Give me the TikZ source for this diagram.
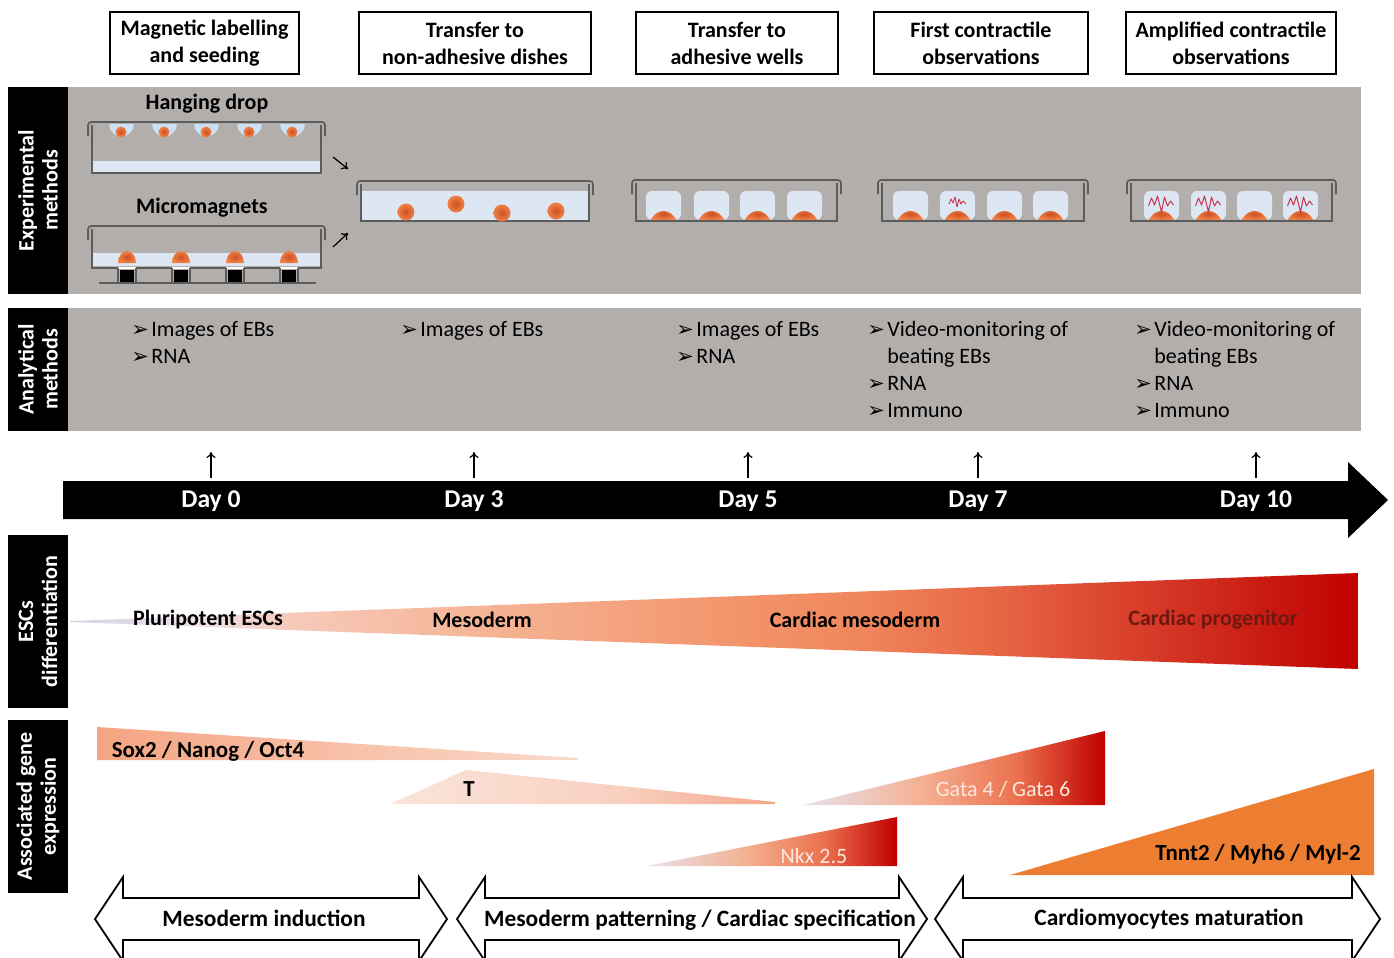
\documentclass[tikz,border=0pt]{standalone}
\usepackage{fontspec}
\setmainfont{Carlito}
\newfontfamily\symfont{DejaVu Sans}
\usetikzlibrary{arrows.meta}

% palette
\definecolor{panelgray}{RGB}{178,174,172}
\definecolor{dishgray}{RGB}{92,92,92}
\definecolor{liquid}{RGB}{220,231,243}
\definecolor{dropblue}{RGB}{203,224,243}
\definecolor{cellorange}{RGB}{240,130,70}
\definecolor{celldark}{RGB}{205,80,35}
\definecolor{beatred}{RGB}{200,55,80}
\definecolor{tnntorange}{RGB}{237,125,49}
\definecolor{progtext}{RGB}{110,25,15}
\definecolor{genelight}{RGB}{252,232,222}

% differentiation wedge
\definecolor{da}{RGB}{215,210,228}
\definecolor{db}{RGB}{236,226,232}
\definecolor{dc}{RGB}{246,202,186}
\definecolor{dd}{RGB}{245,182,152}
\definecolor{de}{RGB}{243,152,112}
\definecolor{df}{RGB}{240,135,92}
\definecolor{dg}{RGB}{230,102,68}
\definecolor{dh}{RGB}{214,58,40}
\definecolor{di}{RGB}{192,0,0}
\pgfdeclarehorizontalshading{diffshade}{100bp}{color(0bp)=(da); color(25bp)=(da);
  color(30bp)=(db); color(33.5bp)=(dc); color(40.5bp)=(dd); color(49.5bp)=(de);
  color(55.5bp)=(df); color(61bp)=(dg); color(67bp)=(dh); color(75bp)=(di); color(100bp)=(di)}

% gene expression wedges
\definecolor{sa}{RGB}{244,164,130}
\definecolor{sb}{RGB}{250,218,204}
\pgfdeclarehorizontalshading{soxshade}{100bp}{color(0bp)=(sa); color(25bp)=(sa);
  color(75bp)=(sb); color(100bp)=(sb)}
\definecolor{ta}{RGB}{251,228,218}
\definecolor{tb}{RGB}{249,208,192}
\definecolor{tc}{RGB}{244,168,138}
\pgfdeclarehorizontalshading{tshade}{100bp}{color(0bp)=(ta); color(25bp)=(ta);
  color(55bp)=(tb); color(75bp)=(tc); color(100bp)=(tc)}
\definecolor{ga}{RGB}{232,226,236}
\definecolor{gb}{RGB}{244,175,145}
\definecolor{gc}{RGB}{236,115,80}
\definecolor{gd}{RGB}{192,0,0}
\pgfdeclarehorizontalshading{gatashade}{100bp}{color(0bp)=(ga); color(25bp)=(ga);
  color(45bp)=(gb); color(60bp)=(gc); color(75bp)=(gd); color(100bp)=(gd)}

% culture dish: lid and body outline; args x1, x2, lid top, bottom
\newcommand{\dishframe}[4]{%
  \draw[dishline, rounded corners=1.5pt] (#1,#3+14) -- (#1,#3) -- (#2,#3) -- (#2,#3+14);
  \draw[dishline] (#1+4,#3+3) -- (#1+4,#4) -- (#2-4,#4) -- (#2-4,#3+3);
}
% adherent embryoid body at the bottom of a well centred at #1
\newcommand{\wellcell}[1]{%
  \fill[liquid, rounded corners=3pt] (#1-17.5,191) rectangle (#1+17.5,220);
  \shade[inner color=celldark, outer color=cellorange]
    (#1-13,220) .. controls (#1-6,208) and (#1+6,208) .. (#1+13,220) -- cycle;
}
\newcommand{\bigbeat}[1]{%
  \draw[beatred, line width=0.5pt, line join=round, shift={(#1,0)}]
    (-13,206) -- (-10,198) -- (-7,205) -- (-4,196) -- (0,212) -- (3,197) -- (6,206) -- (9,201) -- (12,205);
}
\newcommand{\bul}{\makebox[10pt][l]{\symfont\fontsize{10.5}{10.5}\selectfont ➢}}

\begin{document}
\begin{tikzpicture}[x=0.5pt,y=-0.5pt,
  every node/.style={inner sep=0pt},
  hdr/.style={draw=black, line width=1pt, fill=white, align=center,
    font=\bfseries\fontsize{11}{13.5}\selectfont, minimum height=31pt},
  sidelab/.style={fill=black, text=white, rotate=90, align=center,
    font=\bfseries\fontsize{11}{12}\selectfont, minimum height=30pt},
  ana/.style={anchor=base west, font=\fontsize{11}{13.5}\selectfont},
  dayl/.style={text=white, anchor=base, font=\bfseries\fontsize{12.8}{14}\selectfont},
  stage/.style={font=\bfseries\fontsize{11}{13}\selectfont},
  phase/.style={font=\bfseries\fontsize{11.7}{13}\selectfont},
  gene/.style={font=\bfseries\fontsize{11.5}{13}\selectfont},
  genereg/.style={text=genelight, font=\fontsize{11}{13}\selectfont},
  dishline/.style={draw=dishgray, line width=0.8pt},
  tick/.style={-{To[length=3pt,width=4.5pt]}, line width=0.6pt},
  phasearrow/.style={draw=black, line width=0.9pt, fill=white, line join=miter}]

\useasboundingbox (0,0) rectangle (1394,958);
\clip (0,0) rectangle (1394,958);
\fill[white] (0,0) rectangle (1394,958);

% ---------------- stage headers ----------------
\node[hdr, minimum width=94.5pt] (h1) at (204.5,43) {Magnetic labelling\\and seeding};
\node[hdr, minimum width=116pt] (h2) at (475,43) {Transfer to\\non-adhesive dishes};
\node[hdr, minimum width=101pt] (h3) at (737,43) {Transfer to\\adhesive wells};
\node[hdr, minimum width=107pt] (h4) at (981,43) {First contractile\\observations};
\node[hdr, minimum width=105pt] (h5) at (1231,43) {Amplified contractile\\observations};

% ---------------- panels and row labels ----------------
\fill[panelgray] (68,87) rectangle (1361,294);
\fill[panelgray] (68,308) rectangle (1361,431);
\node[sidelab, minimum width=103.5pt] (lexp) at (38,190.5) {Experimental\\methods};
\node[sidelab, minimum width=61.5pt] (lana) at (38,369.5) {Analytical\\methods};
\node[sidelab, minimum width=86.5pt] (lesc) at (38,621.5) {ESCs\\differentiation};
\node[sidelab, minimum width=86.5pt] (lgen) at (38,806.5) {Associated gene\\expression};

% ---------------- hanging drop ----------------
\node[stage] (thd) at (207,104) {Hanging drop};
\fill[liquid] (93,161) rectangle (321,172);
\foreach \cx in {121,164,206,249,292} {
  \fill[dropblue] (\cx-12,124) arc[start angle=180, end angle=0, radius=12.5] -- cycle;
  \shade[inner color=celldark, outer color=cellorange] (\cx,132) circle[radius=5.5];
}
\dishframe{88}{325}{122}{173}

% ---------------- micromagnets ----------------
\node[stage] (tmm) at (202,208) {Micromagnets};
\fill[liquid] (93,253) rectangle (321,266);
\dishframe{88}{325}{226}{268}
\foreach \cx in {127,181,235,289} {
  \shade[inner color=celldark, outer color=cellorange]
    (\cx-9,263) arc[start angle=180, end angle=360, x radius=9, y radius=12] -- cycle;
  \fill[white] (\cx-9,267) rectangle (\cx+9,269);
  \draw[dishgray, line width=0.6pt] (\cx-9,268) -- (\cx-9,282) (\cx+9,268) -- (\cx+9,282);
  \fill[black] (\cx-7,270) rectangle (\cx+7,282);
}
\draw[dishgray, line width=1pt] (99,283) -- (316,283);

% arrows into the common dish
\coordinate (ahd0) at (333,157);
\coordinate (ahd1) at (348,169);
\coordinate (amm0) at (333,247);
\coordinate (amm1) at (348,233);
\draw[tick] (ahd0) -- (ahd1);
\draw[tick] (amm0) -- (amm1);

% ---------------- non-adhesive dish ----------------
\fill[liquid] (361,191) rectangle (589,221);
\dishframe{357}{593}{181}{221}
\foreach \cx/\cy in {406/212, 456/204, 502/213, 556/211}
  \shade[inner color=celldark, outer color=cellorange] (\cx,\cy) circle[radius=8.5];

% ---------------- adhesive wells ----------------
\foreach \cx in {663.5,711.5,757.5,804.5} { \wellcell{\cx} }
\dishframe{632}{841}{180}{221}

% ---------------- first contractions ----------------
\foreach \cx in {910.5,957.5,1004.5,1050.5} { \wellcell{\cx} }
\dishframe{878}{1088}{180}{221}
\draw[beatred, line width=0.45pt, line join=round]
  (949,204) -- (951,199) -- (953,203) -- (955,197) -- (957,207) -- (959,199) -- (961,204) -- (963,201) -- (966,204);

% ---------------- amplified contractions ----------------
\foreach \cx in {1161.5,1208.5,1254.5,1300.5} { \wellcell{\cx} }
\dishframe{1127}{1336}{180}{221}
\bigbeat{1161.5}
\bigbeat{1208.5}
\bigbeat{1300.5}

% ---------------- analytical methods ----------------
\node[ana] (a11) at (131,336) {\bul Images of EBs};
\node[ana] (a12) at (131,363) {\bul RNA};
\node[ana] (a21) at (400,336) {\bul Images of EBs};
\node[ana] (a31) at (676,336) {\bul Images of EBs};
\node[ana] (a32) at (676,363) {\bul RNA};
\node[ana] (a41) at (867,336) {\bul Video-monitoring of};
\node[ana] (a42) at (887,363) {beating EBs};
\node[ana] (a43) at (867,390) {\bul RNA};
\node[ana] (a44) at (867,417) {\bul Immuno};
\node[ana] (a51) at (1134,336) {\bul Video-monitoring of};
\node[ana] (a52) at (1154,363) {beating EBs};
\node[ana] (a53) at (1134,390) {\bul RNA};
\node[ana] (a54) at (1134,417) {\bul Immuno};

% ---------------- timeline ----------------
\fill[black] (63,481) -- (1348,481) -- (1348,462) -- (1388,500) -- (1348,538)
  -- (1348,519) -- (63,519) -- cycle;
\foreach \n/\x/\t in {0/211/Day 0, 3/474/Day 3, 5/748/Day 5, 7/978/Day 7, 10/1256/Day 10} {
  \node[dayl] (day\n) at (\x,507) {\t};
  \coordinate (mk\n) at (\x,452);
  \draw[tick] (day\n.north |- 0,478) -- (mk\n);
}

% ---------------- ESC differentiation ----------------
\shade[shading=diffshade] (70,621) -- (1358,573) -- (1358,669) -- (70,622) -- cycle;
\node[stage] (sPl) at (208,620) {Pluripotent ESCs};
\node[stage] (sMe) at (482,620) {Mesoderm};
\node[stage] (sCm) at (855,620) {Cardiac mesoderm};
\node[stage, text=progtext] (sCp) at (1213,620) {Cardiac progenitor};

% ---------------- gene expression ----------------
\shade[shading=soxshade] (97,727) -- (578,758) -- (578,760) -- (97,760) -- cycle;
\shade[shading=tshade] (390,804) -- (466,770) -- (775,802) -- (775,804) -- cycle;
\shade[shading=gatashade] (803,805) -- (1105,731) -- (1105,805) -- cycle;
\shade[shading=gatashade] (647,866) -- (897,817) -- (897,866) -- cycle;
\fill[tnntorange] (1010,875) -- (1374,769) -- (1374,875) -- cycle;
\node[gene] (gSox) at (208,751) {Sox2 / Nanog / Oct4};
\node[gene] (gT) at (469,789) {T};
\node[genereg] (gGata) at (1003,789) {Gata 4 / Gata 6};
\node[genereg] (gNkx) at (814,856) {Nkx 2.5};
\node[gene] (gTnn) at (1258,854) {Tnnt2 / Myh6 / Myl-2};

% ---------------- phases ----------------
\foreach \xl/\xr in {95/447, 457/927, 935/1380} {
  \draw[phasearrow] (\xl,919) -- (\xl+28,877) -- (\xl+28,898) -- (\xr-28,898) -- (\xr-28,877)
    -- (\xr,919) -- (\xr-28,961) -- (\xr-28,940) -- (\xl+28,940) -- (\xl+28,961) -- cycle;
}
\node[phase] (p1) at (264,918) {Mesoderm induction};
\node[phase] (p2) at (700,920) {Mesoderm patterning / Cardiac specification};
\node[phase] (p3) at (1169,919) {Cardiomyocytes maturation};

\end{tikzpicture}
\end{document}
